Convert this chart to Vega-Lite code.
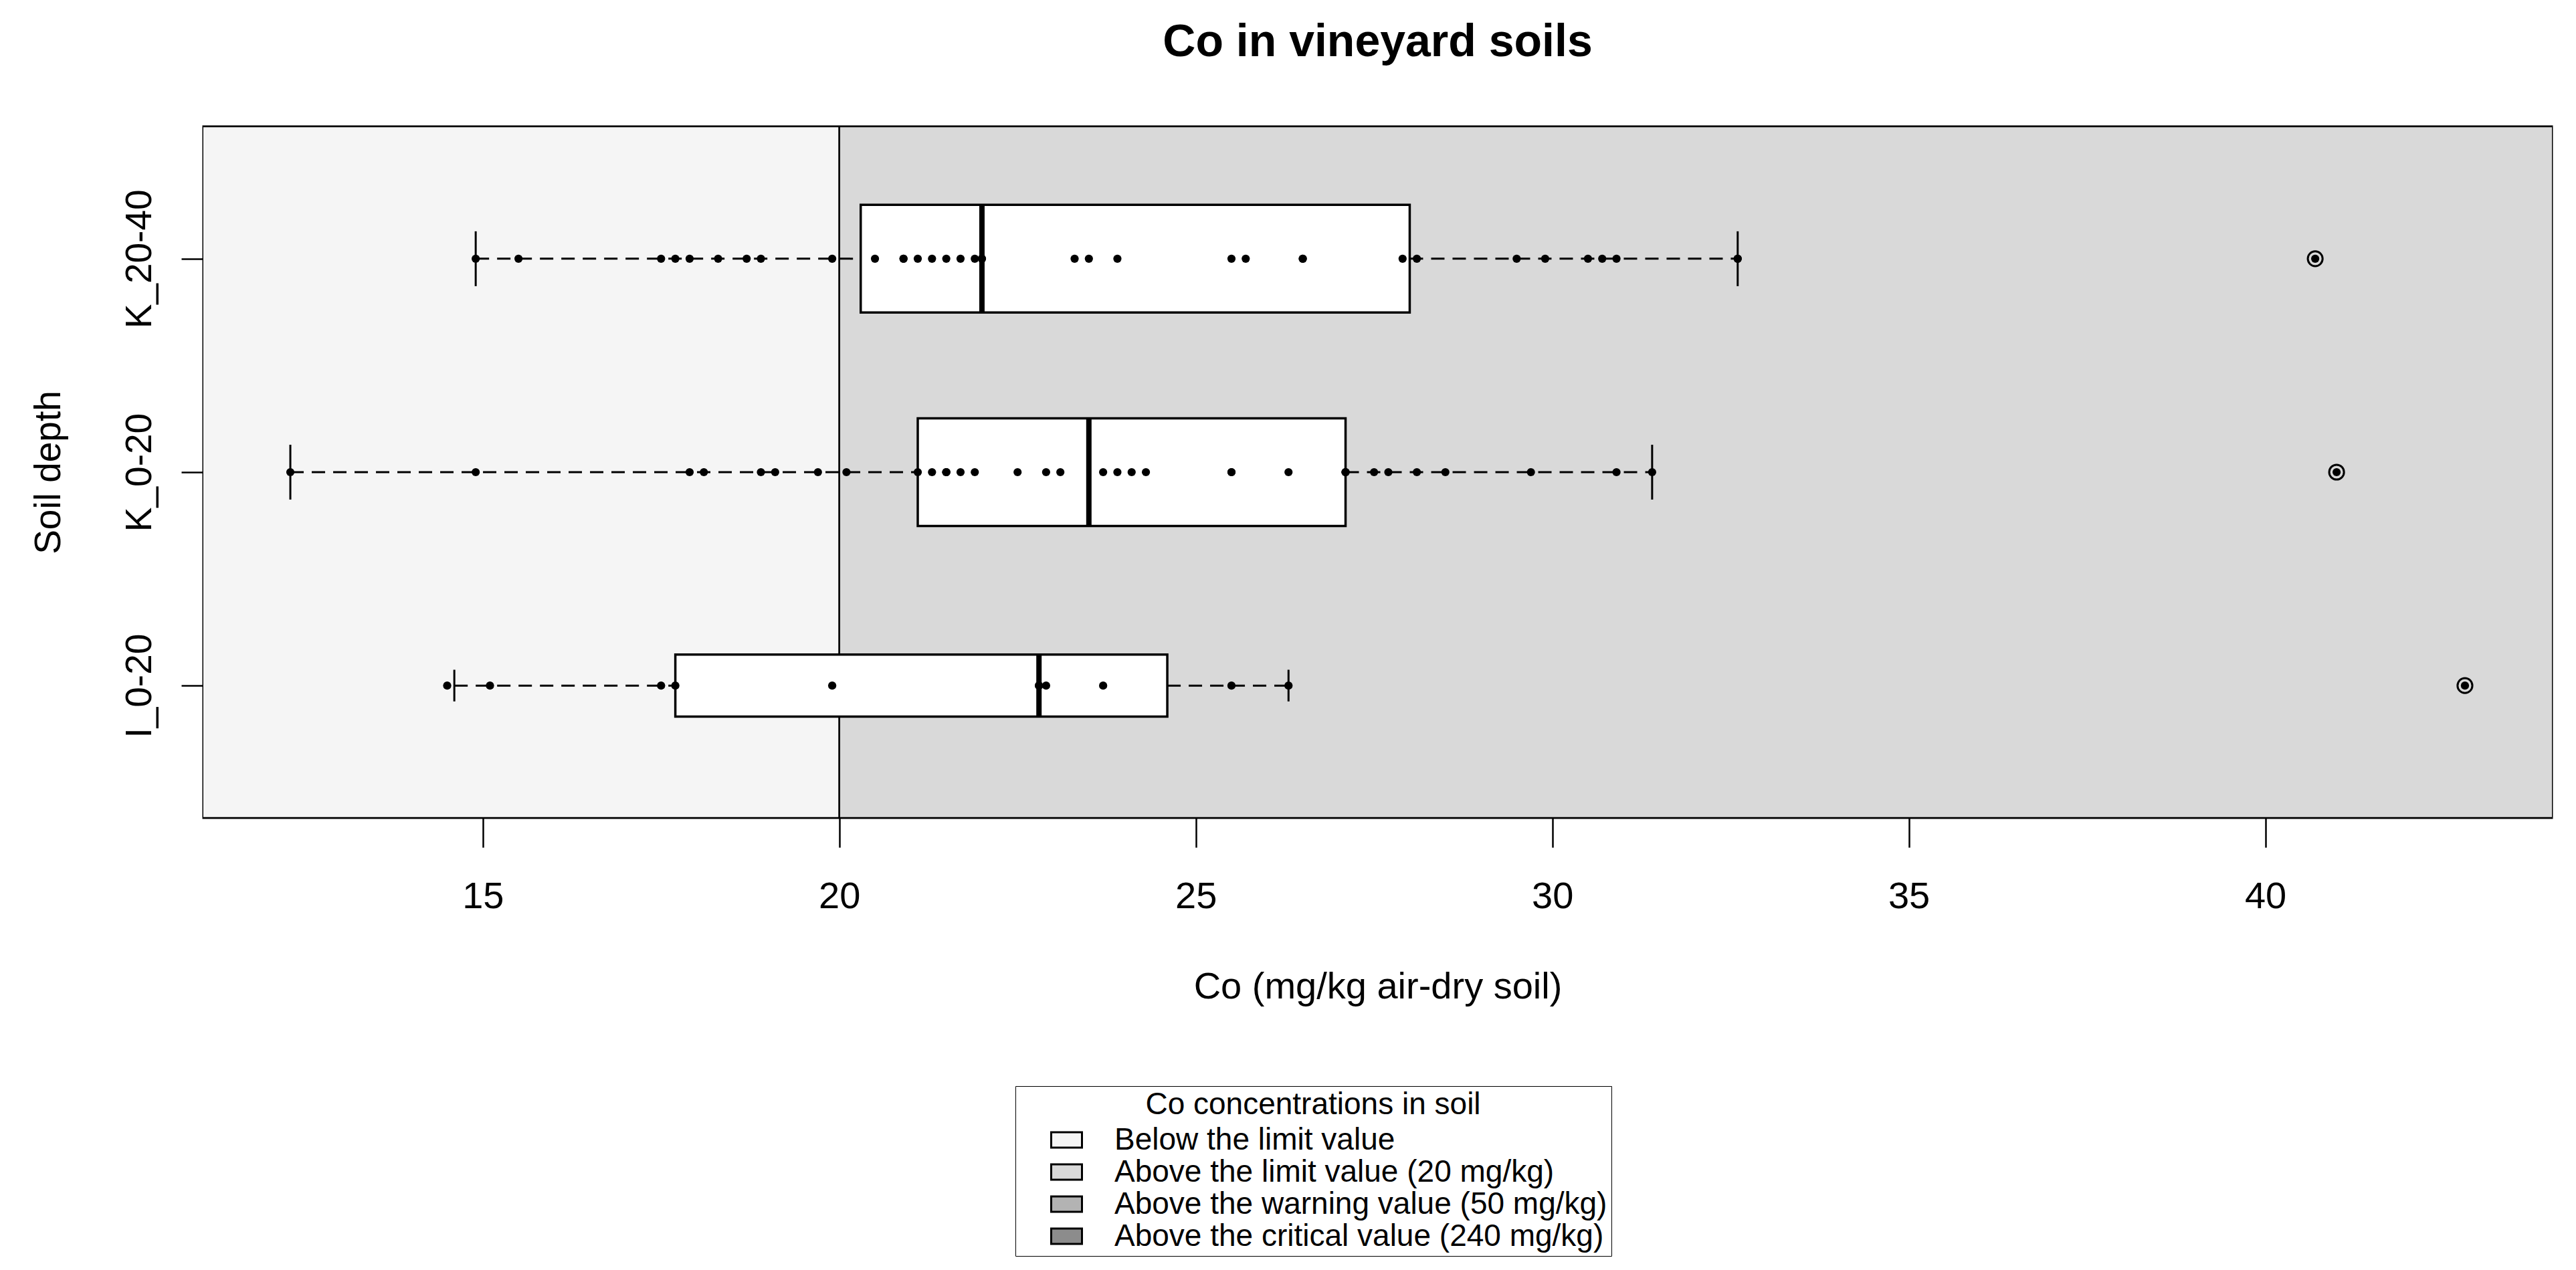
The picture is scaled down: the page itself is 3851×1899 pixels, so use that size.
{
  "$schema": "https://vega.github.io/schema/vega-lite/v6.json",
  "autosize": "none",
  "width": 3511,
  "height": 1034,
  "padding": {"left": 304, "top": 189, "right": 36, "bottom": 676},
  "background": "white",
  "title": {"text": "Co in vineyard soils", "anchor": "middle", "frame": "group", "fontSize": 68, "fontWeight": "bold", "font": "Liberation Sans", "color": "black", "baseline": "alphabetic", "offset": 37},
  "config": {
    "font": "Liberation Sans",
    "view": {"stroke": "black", "strokeWidth": 3},
    "axisX": {"grid": false, "domain": false, "tickColor": "black", "tickWidth": 2.5, "tickSize": 44, "labelFontSize": 56, "labelColor": "black", "labelFont": "Liberation Sans", "labelBaseline": "alphabetic", "labelPadding": 90, "titleFontSize": 56, "titleFontWeight": "normal", "titleColor": "black", "titleFont": "Liberation Sans", "titleBaseline": "alphabetic", "titleY": 269, "labelFlush": false, "labelOverlap": false, "format": "d"},
    "axisY": {"grid": false, "domain": false, "tickColor": "black", "tickWidth": 2.5, "tickSize": 33, "labelFontSize": 55, "labelColor": "black", "labelFont": "Liberation Sans", "labelAngle": -90, "labelAlign": "center", "labelBaseline": "alphabetic", "labelPadding": 46, "labelLimit": 2000, "titleFontSize": 55, "titleFontWeight": "normal", "titleColor": "black", "titleFont": "Liberation Sans", "titleBaseline": "alphabetic", "titleAngle": -90, "titleX": -215}
  },
  "datasets": {
    "bg": [
      {"category": "Below the limit value", "from": 0, "to": 20},
      {"category": "Above the limit value (20 mg/kg)", "from": 20, "to": 50},
      {"category": "Above the warning value (50 mg/kg)", "from": 50, "to": 240},
      {"category": "Above the critical value (240 mg/kg)", "from": 240, "to": 1000}
    ],
    "stats": [
      {"depth": "K_20-40", "n": 36, "wlo": 14.9, "q1": 20.3, "med": 22.0, "q3": 28.0, "whi": 32.6},
      {"depth": "K_0-20", "n": 36, "wlo": 12.3, "q1": 21.1, "med": 23.5, "q3": 27.1, "whi": 31.4},
      {"depth": "I_0-20", "n": 12, "wlo": 14.6, "q1": 17.7, "med": 22.8, "q3": 24.6, "whi": 26.3}
    ],
    "pts": [
      {"depth": "K_20-40", "co": 14.9, "outlier": false},
      {"depth": "K_20-40", "co": 15.5, "outlier": false},
      {"depth": "K_20-40", "co": 17.5, "outlier": false},
      {"depth": "K_20-40", "co": 17.7, "outlier": false},
      {"depth": "K_20-40", "co": 17.9, "outlier": false},
      {"depth": "K_20-40", "co": 18.3, "outlier": false},
      {"depth": "K_20-40", "co": 18.7, "outlier": false},
      {"depth": "K_20-40", "co": 18.9, "outlier": false},
      {"depth": "K_20-40", "co": 19.9, "outlier": false},
      {"depth": "K_20-40", "co": 20.5, "outlier": false},
      {"depth": "K_20-40", "co": 20.9, "outlier": false},
      {"depth": "K_20-40", "co": 20.9, "outlier": false},
      {"depth": "K_20-40", "co": 21.1, "outlier": false},
      {"depth": "K_20-40", "co": 21.3, "outlier": false},
      {"depth": "K_20-40", "co": 21.5, "outlier": false},
      {"depth": "K_20-40", "co": 21.7, "outlier": false},
      {"depth": "K_20-40", "co": 21.9, "outlier": false},
      {"depth": "K_20-40", "co": 22.0, "outlier": false},
      {"depth": "K_20-40", "co": 22.0, "outlier": false},
      {"depth": "K_20-40", "co": 23.3, "outlier": false},
      {"depth": "K_20-40", "co": 23.5, "outlier": false},
      {"depth": "K_20-40", "co": 23.9, "outlier": false},
      {"depth": "K_20-40", "co": 25.5, "outlier": false},
      {"depth": "K_20-40", "co": 25.7, "outlier": false},
      {"depth": "K_20-40", "co": 26.5, "outlier": false},
      {"depth": "K_20-40", "co": 26.5, "outlier": false},
      {"depth": "K_20-40", "co": 27.9, "outlier": false},
      {"depth": "K_20-40", "co": 28.1, "outlier": false},
      {"depth": "K_20-40", "co": 29.5, "outlier": false},
      {"depth": "K_20-40", "co": 29.9, "outlier": false},
      {"depth": "K_20-40", "co": 30.5, "outlier": false},
      {"depth": "K_20-40", "co": 30.7, "outlier": false},
      {"depth": "K_20-40", "co": 30.9, "outlier": false},
      {"depth": "K_20-40", "co": 32.6, "outlier": false},
      {"depth": "K_20-40", "co": 32.6, "outlier": false},
      {"depth": "K_20-40", "co": 40.7, "outlier": true},
      {"depth": "K_0-20", "co": 12.3, "outlier": false},
      {"depth": "K_0-20", "co": 14.9, "outlier": false},
      {"depth": "K_0-20", "co": 17.9, "outlier": false},
      {"depth": "K_0-20", "co": 18.1, "outlier": false},
      {"depth": "K_0-20", "co": 18.9, "outlier": false},
      {"depth": "K_0-20", "co": 19.1, "outlier": false},
      {"depth": "K_0-20", "co": 19.7, "outlier": false},
      {"depth": "K_0-20", "co": 20.1, "outlier": false},
      {"depth": "K_0-20", "co": 21.1, "outlier": false},
      {"depth": "K_0-20", "co": 21.3, "outlier": false},
      {"depth": "K_0-20", "co": 21.5, "outlier": false},
      {"depth": "K_0-20", "co": 21.5, "outlier": false},
      {"depth": "K_0-20", "co": 21.5, "outlier": false},
      {"depth": "K_0-20", "co": 21.7, "outlier": false},
      {"depth": "K_0-20", "co": 21.9, "outlier": false},
      {"depth": "K_0-20", "co": 22.5, "outlier": false},
      {"depth": "K_0-20", "co": 22.9, "outlier": false},
      {"depth": "K_0-20", "co": 23.1, "outlier": false},
      {"depth": "K_0-20", "co": 23.7, "outlier": false},
      {"depth": "K_0-20", "co": 23.9, "outlier": false},
      {"depth": "K_0-20", "co": 24.1, "outlier": false},
      {"depth": "K_0-20", "co": 24.3, "outlier": false},
      {"depth": "K_0-20", "co": 25.5, "outlier": false},
      {"depth": "K_0-20", "co": 25.5, "outlier": false},
      {"depth": "K_0-20", "co": 26.3, "outlier": false},
      {"depth": "K_0-20", "co": 27.1, "outlier": false},
      {"depth": "K_0-20", "co": 27.1, "outlier": false},
      {"depth": "K_0-20", "co": 27.1, "outlier": false},
      {"depth": "K_0-20", "co": 27.5, "outlier": false},
      {"depth": "K_0-20", "co": 27.7, "outlier": false},
      {"depth": "K_0-20", "co": 28.1, "outlier": false},
      {"depth": "K_0-20", "co": 28.5, "outlier": false},
      {"depth": "K_0-20", "co": 29.7, "outlier": false},
      {"depth": "K_0-20", "co": 30.9, "outlier": false},
      {"depth": "K_0-20", "co": 31.4, "outlier": false},
      {"depth": "K_0-20", "co": 41.0, "outlier": true},
      {"depth": "I_0-20", "co": 14.5, "outlier": false},
      {"depth": "I_0-20", "co": 15.1, "outlier": false},
      {"depth": "I_0-20", "co": 17.5, "outlier": false},
      {"depth": "I_0-20", "co": 17.7, "outlier": false},
      {"depth": "I_0-20", "co": 19.9, "outlier": false},
      {"depth": "I_0-20", "co": 22.8, "outlier": false},
      {"depth": "I_0-20", "co": 22.8, "outlier": false},
      {"depth": "I_0-20", "co": 22.9, "outlier": false},
      {"depth": "I_0-20", "co": 23.7, "outlier": false},
      {"depth": "I_0-20", "co": 25.5, "outlier": false},
      {"depth": "I_0-20", "co": 26.3, "outlier": false},
      {"depth": "I_0-20", "co": 42.8, "outlier": true}
    ]
  },
  "resolve": {"scale": {"size": "independent"}},
  "layer": [
    {
      "data": {"name": "bg"},
      "mark": {"type": "rect", "clip": true, "stroke": "black", "strokeWidth": 2.5},
      "encoding": {
        "x": {"field": "from", "type": "quantitative", "title": "Co (mg/kg air-dry soil)", "scale": {"domain": [11.08, 44.02], "nice": false, "zero": false}, "axis": {"values": [15, 20, 25, 30, 35, 40], "format": "d"}},
        "x2": {"field": "to"},
        "fill": {
          "field": "category", "type": "nominal",
          "scale": {"domain": ["Below the limit value", "Above the limit value (20 mg/kg)", "Above the warning value (50 mg/kg)", "Above the critical value (240 mg/kg)"], "range": ["#f5f5f5", "#d9d9d9", "#b3b3b3", "#8c8c8c"]},
          "legend": {"orient": "none", "legendX": 1214, "legendY": 1435, "title": "Co concentrations in soil", "titleFontSize": 46, "titleFontWeight": "normal", "titleFont": "Liberation Sans", "titleColor": "black", "titleAnchor": "middle", "titlePadding": 4, "titleLimit": 3000, "labelFontSize": 46, "labelFont": "Liberation Sans", "labelColor": "black", "labelLimit": 3000, "labelOffset": 47, "labelExpr": "pad(datum.label, 47)", "symbolType": "M-1,-0.5H1V0.5H-1Z", "symbolSize": 2116, "symbolStrokeColor": "black", "symbolStrokeWidth": 3, "symbolOpacity": 1, "symbolOffset": 46, "rowPadding": -8, "padding": 6, "strokeColor": "black", "fillColor": "white"}
        }
      }
    },
    {
      "data": {"name": "stats"},
      "mark": {"type": "rule", "strokeDash": [20, 12], "strokeWidth": 3, "color": "black"},
      "encoding": {
        "x": {"field": "wlo", "type": "quantitative", "title": "Co (mg/kg air-dry soil)", "scale": {"domain": [11.08, 44.02], "nice": false, "zero": false}},
        "x2": {"field": "q1"},
        "y": {"field": "depth", "type": "nominal", "title": "Soil depth", "scale": {"type": "point", "domain": ["K_20-40", "K_0-20", "I_0-20"], "padding": 0.62}}
      }
    },
    {
      "data": {"name": "stats"},
      "mark": {"type": "rule", "strokeDash": [20, 12], "strokeWidth": 3, "color": "black"},
      "encoding": {
        "x": {"field": "q3", "type": "quantitative", "title": "Co (mg/kg air-dry soil)"},
        "x2": {"field": "whi"},
        "y": {"field": "depth", "type": "nominal", "title": "Soil depth"}
      }
    },
    {
      "data": {"name": "stats"},
      "mark": {"type": "tick", "thickness": 3, "color": "black", "opacity": 1},
      "encoding": {
        "x": {"field": "wlo", "type": "quantitative", "title": "Co (mg/kg air-dry soil)"},
        "y": {"field": "depth", "type": "nominal", "title": "Soil depth"},
        "size": {"field": "n", "type": "quantitative", "scale": {"type": "sqrt", "domain": [0, 36], "range": [0, 82]}, "legend": null}
      }
    },
    {
      "data": {"name": "stats"},
      "mark": {"type": "tick", "thickness": 3, "color": "black", "opacity": 1},
      "encoding": {
        "x": {"field": "whi", "type": "quantitative", "title": "Co (mg/kg air-dry soil)"},
        "y": {"field": "depth", "type": "nominal", "title": "Soil depth"},
        "size": {"field": "n", "type": "quantitative", "scale": {"type": "sqrt", "domain": [0, 36], "range": [0, 82]}, "legend": null}
      }
    },
    {
      "data": {"name": "stats"},
      "mark": {"type": "bar", "fill": "white", "stroke": "black", "strokeWidth": 3.5, "opacity": 1},
      "encoding": {
        "x": {"field": "q1", "type": "quantitative", "title": "Co (mg/kg air-dry soil)"},
        "x2": {"field": "q3"},
        "y": {"field": "depth", "type": "nominal", "title": "Soil depth"},
        "size": {"field": "n", "type": "quantitative", "scale": {"type": "sqrt", "domain": [0, 36], "range": [0, 161]}, "legend": null}
      }
    },
    {
      "data": {"name": "stats"},
      "mark": {"type": "tick", "thickness": 8, "color": "black", "opacity": 1},
      "encoding": {
        "x": {"field": "med", "type": "quantitative", "title": "Co (mg/kg air-dry soil)"},
        "y": {"field": "depth", "type": "nominal", "title": "Soil depth"},
        "size": {"field": "n", "type": "quantitative", "scale": {"type": "sqrt", "domain": [0, 36], "range": [0, 161]}, "legend": null}
      }
    },
    {
      "data": {"name": "pts"},
      "mark": {"type": "circle", "color": "black", "opacity": 1, "size": 150},
      "encoding": {
        "x": {"field": "co", "type": "quantitative", "title": "Co (mg/kg air-dry soil)"},
        "y": {"field": "depth", "type": "nominal", "title": "Soil depth"}
      }
    },
    {
      "data": {"name": "pts"},
      "transform": [{"filter": "datum.outlier"}],
      "mark": {"type": "point", "filled": false, "stroke": "black", "strokeWidth": 3, "opacity": 1, "size": 490, "shape": "circle"},
      "encoding": {
        "x": {"field": "co", "type": "quantitative", "title": "Co (mg/kg air-dry soil)"},
        "y": {"field": "depth", "type": "nominal", "title": "Soil depth"}
      }
    }
  ]
}
